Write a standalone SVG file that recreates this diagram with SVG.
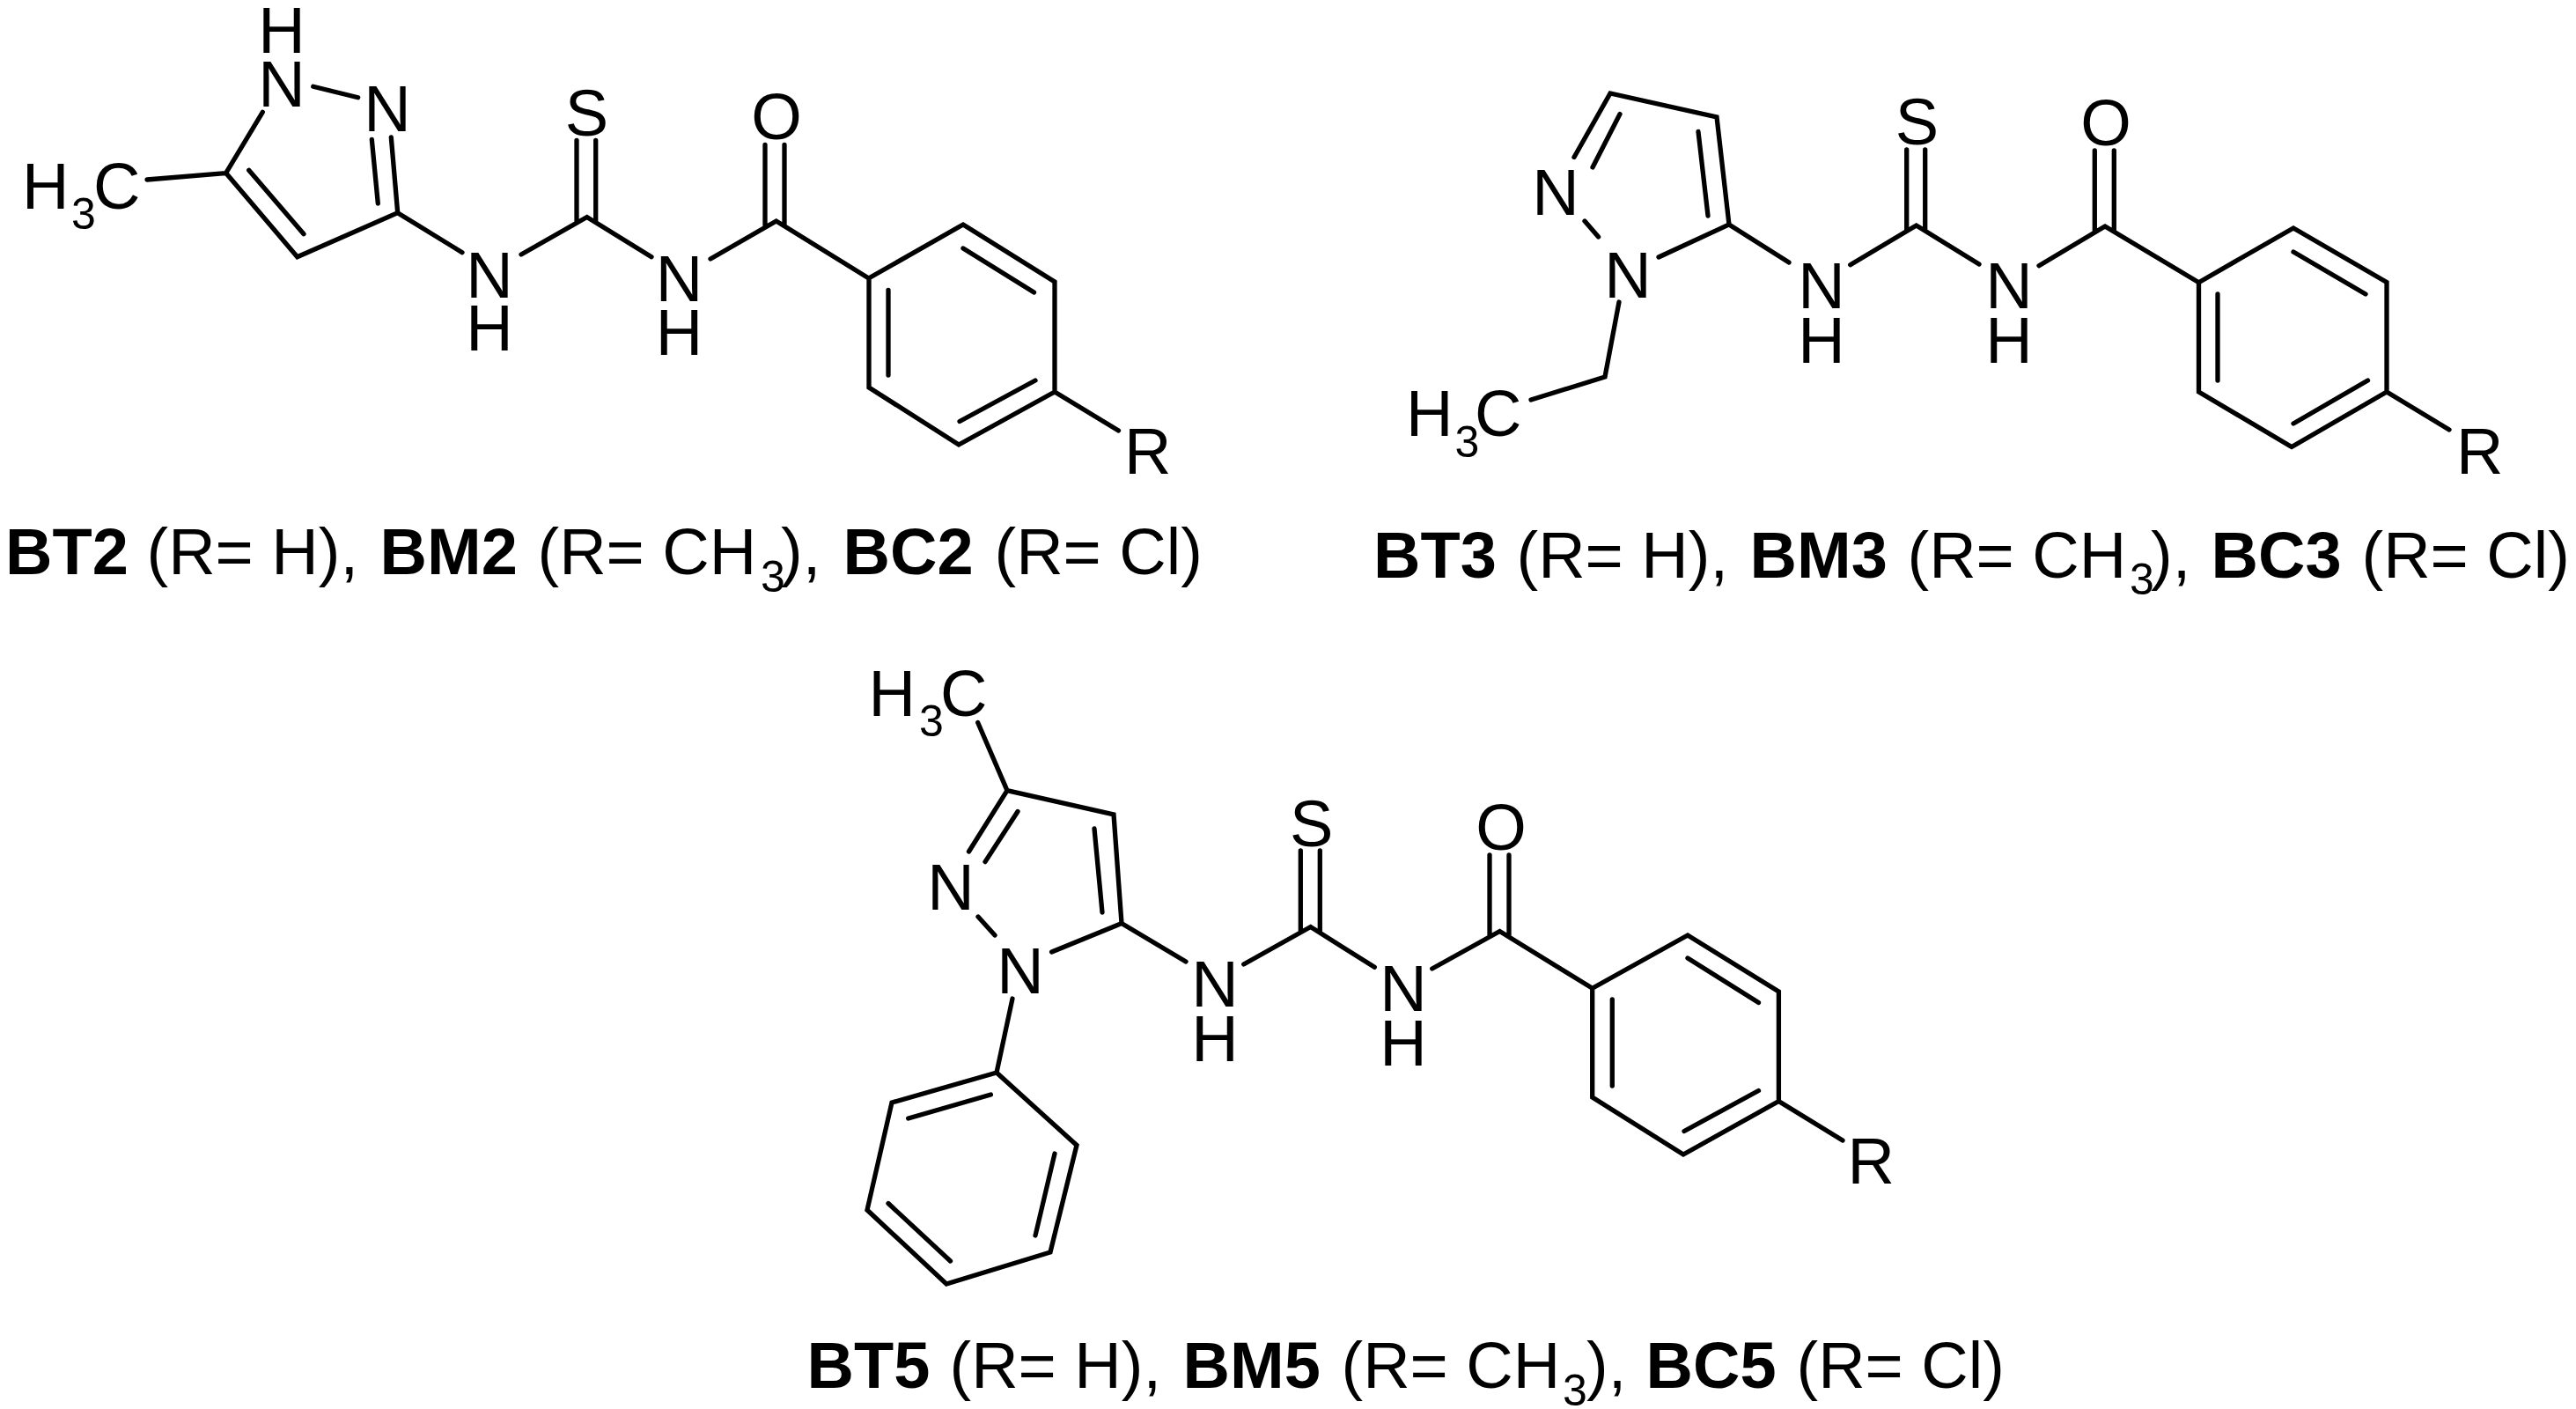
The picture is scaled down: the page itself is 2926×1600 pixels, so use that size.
<svg xmlns="http://www.w3.org/2000/svg" width="2926" height="1600" viewBox="0 0 2926 1600">
<style>
text{font-family:"Liberation Sans",Arial,sans-serif;font-size:74px;fill:#000}
.b{font-weight:bold}
.s{font-size:50px}
.m{text-anchor:middle}
#bonds path{fill:none;stroke:#000;stroke-width:5.300;stroke-linecap:round;stroke-linejoin:miter}
</style>
<rect width="2926" height="1600" fill="#fff"/>
<g id="bonds">
<path id="bonds-BT2" d="M298.300 127.300L256.700 196.500L337.700 291.700L451.700 241.700L444.300 156M422.300 158.300L429.300 231M282.700 193.300L345 265.700M355.700 98.300L406.700 110.700M167 204L256.700 196.500M451.700 241.700L525 286.700M592 289L666.700 246.500L740 291.700M655 159.500V251M676.700 159.500V251M807 294L881.700 251L986.700 316L1094 255L1198 320V445L1089 505L987 440V316M869 164.500V256M891 164.500V256M1009 329.500V426M1094 282L1174.500 332M1176 432L1090 478.500M1198 445L1270.500 489"/>
<path id="bonds-BT3" d="M1788 178.500L1829 106L1950 133L1964 255L1884 292M1809 190L1840 129.500M1929 149.500L1940 245M1800 251L1815.600 269M1839 343L1823 428L1739 454M1964 255L2032 298M2101.700 300.700L2176.700 256L2248 300M2165.700 170V261M2186.700 170V261M2316 301.700L2391 257L2497.500 320.700L2605 259L2711 320.500V445L2603 507.500L2497.500 445V320.700M2379.300 171V262M2401.300 171V262M2519 334V432M2605 286L2687 334M2689.500 432L2605 481M2711 445L2782 488"/>
<path id="bonds-BT5" d="M1110.700 820.500L1144 897.600L1265 925L1274 1048.500L1194.600 1081M1100.500 967L1144 897.600M1119 978.600L1156 921.500M1243 941L1252 1036M1111 1041L1130 1062M1150 1134L1132 1218L1223 1300.500L1193 1422L1075 1458L985 1374L1013 1252L1132 1218M1125.400 1243L1031.700 1270M1198 1310L1176 1403M1079.500 1432L1009 1366.500M1274 1048.500L1347 1092M1412.700 1095L1488.700 1052.500L1561.300 1098.300M1477.300 966V1057M1499.300 966V1057M1626.700 1100L1703.500 1057.500L1808.700 1122.300L1917 1062L2020.400 1126V1250.500L1912 1311L1808.700 1246V1122.300M1692 971V1062M1714 971V1062M1831.300 1135V1233M1917 1088L1997.500 1138.500M1997.500 1238.500L1913 1284.500M2020.400 1250.500L2093 1295"/>
</g>
<g id="BT2-atoms">
<g id="a2-H"><text class="m" x="320" y="60">H</text></g>
<g id="a2-N1"><text class="m" x="320" y="120.700">N</text></g>
<g id="a2-N2"><text class="m" x="440" y="149">N</text></g>
<g id="a2-CH3"><text x="25" y="237">H<tspan class="s" x="81" y="260">3</tspan><tspan x="106" y="237">C</tspan></text></g>
<g id="a2-NHa"><text class="m" x="556" y="337.500">N</text><text class="m" x="556" y="398">H</text></g>
<g id="a2-S"><text class="m" x="666.500" y="153.500">S</text></g>
<g id="a2-NHb"><text class="m" x="771.500" y="341.700">N</text><text class="m" x="771.500" y="403">H</text></g>
<g id="a2-O"><text class="m" x="882" y="158">O</text></g>
<g id="a2-R"><text x="1277" y="538">R</text></g>
</g>
<g id="BT3-atoms">
<g id="a3-N2"><text class="m" x="1767" y="243.500">N</text></g>
<g id="a3-N1"><text class="m" x="1849" y="338">N</text></g>
<g id="a3-CH3"><text x="1597" y="494.600">H<tspan class="s" x="1652.600" y="519">3</tspan><tspan x="1675" y="494.600">C</tspan></text></g>
<g id="a3-NHa"><text class="m" x="2069" y="350">N</text><text class="m" x="2069" y="412">H</text></g>
<g id="a3-S"><text class="m" x="2177.500" y="164">S</text></g>
<g id="a3-NHb"><text class="m" x="2282" y="350">N</text><text class="m" x="2282" y="412">H</text></g>
<g id="a3-O"><text class="m" x="2392" y="165">O</text></g>
<g id="a3-R"><text x="2790" y="538">R</text></g>
</g>
<g id="BT5-atoms">
<g id="a5-CH3"><text x="986.400" y="813">H<tspan class="s" x="1044" y="836">3</tspan><tspan x="1068" y="813">C</tspan></text></g>
<g id="a5-N2"><text class="m" x="1080" y="1032.500">N</text></g>
<g id="a5-N1"><text class="m" x="1159" y="1127.500">N</text></g>
<g id="a5-NHa"><text class="m" x="1380" y="1143">N</text><text class="m" x="1380" y="1205">H</text></g>
<g id="a5-S"><text class="m" x="1489.700" y="960.500">S</text></g>
<g id="a5-NHb"><text class="m" x="1594" y="1147.700">N</text><text class="m" x="1594" y="1210">H</text></g>
<g id="a5-O"><text class="m" x="1705" y="965">O</text></g>
<g id="a5-R"><text x="2098.600" y="1344">R</text></g>
</g>
<g id="captions">
<text id="cap2" y="652"><tspan class="b" x="6">BT2</tspan><tspan x="166.500">(R= H),</tspan><tspan class="b" x="431.600">BM2</tspan><tspan x="610.500">(R= CH</tspan><tspan class="s" x="864" y="672">3</tspan><tspan x="887" y="652">),</tspan><tspan class="b" x="957.600">BC2</tspan><tspan x="1129.500">(R= Cl)</tspan></text>
<text id="cap3" y="656"><tspan class="b" x="1560">BT3</tspan><tspan x="1722.500">(R= H),</tspan><tspan class="b" x="1987.600">BM3</tspan><tspan x="2166.500">(R= CH</tspan><tspan class="s" x="2419" y="675">3</tspan><tspan x="2443" y="656">),</tspan><tspan class="b" x="2511.600">BC3</tspan><tspan x="2682.500">(R= Cl)</tspan></text>
<text id="cap5" y="1576"><tspan class="b" x="916.600">BT5</tspan><tspan x="1078.500">(R= H),</tspan><tspan class="b" x="1343.600">BM5</tspan><tspan x="1523.500">(R= CH</tspan><tspan class="s" x="1775" y="1596">3</tspan><tspan x="1802" y="1576">),</tspan><tspan class="b" x="1869.600">BC5</tspan><tspan x="2040.500">(R= Cl)</tspan></text>
</g>
</svg>
